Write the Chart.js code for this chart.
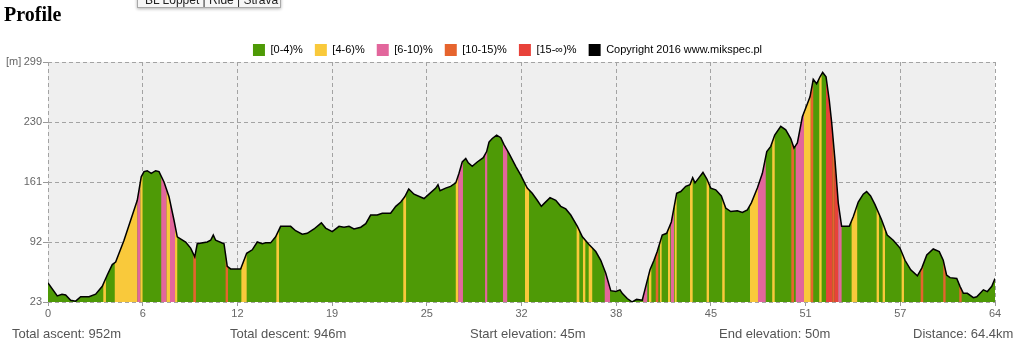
<!DOCTYPE html>
<html>
<head>
<meta charset="utf-8">
<title>Profile</title>
<script src="https://cdn.jsdelivr.net/npm/chart.js@4.4.0/dist/chart.umd.min.js"></script>
<style>
  html, body { margin: 0; padding: 0; background: #fff; }
  body { width: 1023px; height: 362px; position: relative; overflow: hidden; font-family: "Liberation Sans", Arial, sans-serif; }
  #wrap { position: absolute; left: 0; top: 0; width: 1023px; height: 362px; }
  h1 { position: absolute; left: 4px; top: 2px; margin: 0; font: bold 20px/24px "Liberation Serif", "Times New Roman", serif; color: #000; z-index: 2; }
  .tip { position: absolute; left: 137px; top: -9px; width: 144px; height: 17px; padding: 0 0 0 7px; box-sizing: border-box;
         background: #f6f6f6; border: 1px solid #a8a8a8; box-shadow: 0 1px 3px rgba(0,0,0,0.3);
         font: 12px/17px "Liberation Sans", Arial, sans-serif; color: #222; white-space: nowrap; z-index: 3; }
  .stat { position: absolute; top: 326px; font-size: 13px; line-height: 16px; color: #555; white-space: nowrap; }
</style>
</head>
<body>
<h1>Profile</h1>
<div class="tip">BL Loppet | Ride | Strava</div>
<div id="wrap"><canvas id="profile"></canvas></div>
<div id="stats"></div>
<script>
// distance along the route [km] and elevation [m]
const dist = [
  0, 0.63, 0.95, 1.20, 1.54, 1.88, 2.22, 2.79, 3.24, 3.69,
  4.03, 4.37, 4.60, 5.17, 5.62, 6.07, 6.34, 6.53, 6.75, 7.02,
  7.32, 7.55, 7.89, 8.23, 8.57, 8.79, 9.36, 9.70, 9.98, 10.15,
  10.83, 11.06, 11.24, 11.40, 11.97, 12.19, 12.42, 13.10, 13.51, 13.89,
  14.23, 14.57, 14.80, 15.14, 15.48, 15.82, 16.50, 16.84, 17.29, 17.63,
  18.09, 18.59, 18.88, 19.33, 19.79, 20.13, 20.47, 20.81, 21.27, 21.61,
  21.94, 22.39, 22.73, 23.30, 23.65, 23.99, 24.26, 24.53, 24.89, 25.57,
  25.91, 26.37, 26.52, 26.66, 27.04, 27.38, 27.73, 27.95, 28.17, 28.41,
  28.58, 28.85, 29.19, 29.60, 29.83, 29.99, 30.21, 30.51, 30.79, 31.01,
  31.35, 31.81, 32.15, 32.59, 32.93, 33.27, 33.55, 33.78, 34.14, 34.53,
  34.87, 35.21, 35.55, 36.00, 36.34, 36.79, 37.25, 37.59, 37.93, 38.27,
  38.61, 38.90, 39.05, 39.39, 39.73, 40.03, 40.41, 40.65, 40.94, 41.21,
  41.43, 41.77, 42.07, 42.39, 42.75, 43.03, 43.37, 43.66, 43.84, 44.00,
  44.27, 44.54, 44.79, 45.07, 45.41, 45.79, 46.09, 46.43, 46.88, 47.22,
  47.56, 47.83, 48.24, 48.58, 48.88, 49.15, 49.42, 49.83, 50.17, 50.51,
  50.73, 50.96, 51.30, 51.64, 51.82, 52.04, 52.27, 52.50, 52.68, 52.91,
  53.13, 53.29, 53.52, 53.74, 53.97, 54.49, 54.76, 55.10, 55.44, 55.67,
  55.94, 56.24, 56.70, 57.07, 57.48, 57.94, 58.28, 58.67, 59.12, 59.42,
  59.76, 60.20, 60.61, 60.88, 61.11, 61.34, 61.80, 62.02, 62.25, 62.52,
  62.93, 63.16, 63.61, 63.88, 64.18, 64.40
];
const elev = [
  45, 30, 32, 31, 25, 24, 29, 29, 32, 41,
  54, 66, 69, 94, 117, 140, 167, 173, 174, 171,
  174, 173, 161, 144, 117, 98, 92, 85, 75, 90,
  92, 94, 100, 94, 90, 64, 61, 61, 79, 83,
  92, 90, 91, 91, 98, 110, 110, 105, 101, 102,
  107, 114, 108, 104, 110, 109, 110, 107, 109, 113,
  123, 123, 125, 125, 133, 138, 144, 153, 147, 142,
  147, 154, 158, 151, 154, 156, 160, 171, 184, 188,
  183, 179, 184, 189, 196, 207, 211, 215, 212, 204,
  194, 179, 169, 154, 148, 140, 133, 137, 143, 140,
  133, 130, 123, 110, 98, 89, 81, 71, 56, 36,
  35, 37, 33, 27, 23, 26, 25, 41, 60, 71,
  81, 100, 102, 115, 148, 150, 156, 158, 166, 160,
  166, 172, 165, 154, 152, 145, 131, 127, 128, 126,
  129, 137, 154, 171, 196, 202, 215, 225, 221, 211,
  200, 206, 236, 251, 259, 279, 274, 282, 287, 282,
  255, 230, 186, 137, 110, 110, 121, 138, 147, 150,
  145, 135, 117, 100, 94, 85, 71, 60, 53, 62,
  77, 84, 81, 71, 54, 51, 50, 41, 33, 33,
  28, 29, 37, 35, 41, 50
];

const gradeLabels = ['[0-4)%', '[4-6)%', '[6-10)%', '[10-15)%', '[15-\u221e)%'];
const gradeColors = ['#4e9a06', '#f9c93b', '#e2669c', '#e6642e', '#e8423a'];
const copyright = 'Copyright 2016 www.mikspec.pl';

// stretches with a steeper grade: [from km, to km, grade class]
const bands = [
  [3.76, 3.94, 1], [4.54, 6.07, 1], [6.07, 6.29, 2], [6.29, 6.43, 1],
  [7.70, 8.07, 2], [8.07, 8.30, 1], [8.30, 8.64, 2], [8.64, 8.79, 1],
  [9.88, 10.06, 3], [12.08, 12.24, 3], [13.15, 13.51, 1], [15.53, 15.71, 1],
  [24.16, 24.35, 1], [27.73, 27.90, 1], [27.90, 28.22, 2], [29.72, 29.87, 2],
  [30.94, 31.23, 2], [32.44, 32.71, 1], [35.95, 36.13, 1], [36.38, 36.54, 1],
  [36.77, 37.01, 1], [37.86, 38.22, 2], [40.48, 40.75, 2], [40.87, 41.03, 1],
  [41.33, 41.50, 3], [41.62, 41.73, 1], [42.16, 42.30, 1], [42.35, 42.57, 2],
  [42.62, 42.75, 1], [43.66, 43.84, 1], [44.79, 44.95, 1], [45.85, 46.02, 1],
  [47.74, 48.28, 1], [48.28, 48.81, 2], [49.25, 49.42, 1], [50.55, 50.73, 3],
  [50.85, 51.41, 2], [51.41, 51.87, 1], [51.87, 52.04, 3], [52.45, 52.61, 1],
  [52.91, 53.36, 4], [53.36, 53.47, 3], [53.47, 53.74, 4], [53.74, 53.97, 2],
  [54.65, 55.03, 1], [56.35, 56.51, 1], [56.76, 56.92, 1], [58.05, 58.21, 1],
  [59.35, 59.52, 3], [60.88, 61.04, 3], [61.97, 62.13, 3]
];

const xTicks = [0, 6.44, 12.88, 19.32, 25.76, 32.2, 38.64, 45.08, 51.52, 57.96, 64.4];
const xTickLabels = ['0', '6', '12', '19', '25', '32', '38', '45', '51', '57', '64'];
const yTicks = [23, 92, 161, 230, 299];
const yUnit = '[m]';

const stats = ['Total ascent: 952m', 'Total descent: 946m', 'Start elevation: 45m', 'End elevation: 50m', 'Distance: 64.4km'];
const statLeft = [12, 230, 470, 719, 913];

const statsBox = document.getElementById('stats');
stats.forEach((s, i) => {
  const d = document.createElement('div');
  d.className = 'stat';
  d.style.left = statLeft[i] + 'px';
  d.textContent = s;
  statsBox.appendChild(d);
});

Chart.defaults.font.family = '"Liberation Sans", Arial, sans-serif';
Chart.defaults.font.size = 11;
Chart.defaults.color = '#666';

// light grey plot background
const areaBg = {
  id: 'areaBg',
  beforeDraw(chart) {
    const { ctx, chartArea: a } = chart;
    ctx.save();
    ctx.fillStyle = '#efefef';
    ctx.fillRect(a.left, a.top, a.right - a.left, a.bottom - a.top);
    ctx.restore();
  }
};

// paint the grade stretches under the profile, after the green fill and before the line
const gradeBands = {
  id: 'gradeBands',
  beforeDatasetDraw(chart, args) {
    if (args.index !== 0) return;
    const { ctx, chartArea: a, scales: { x } } = chart;
    const pts = args.meta.data;
    bands.forEach(([from, to, cls]) => {
      const x0 = x.getPixelForValue(from);
      const x1 = x.getPixelForValue(to);
      ctx.save();
      ctx.beginPath();
      ctx.rect(x0, a.top, x1 - x0, a.bottom - a.top);
      ctx.clip();
      ctx.beginPath();
      ctx.moveTo(pts[0].x, a.bottom);
      pts.forEach(p => ctx.lineTo(p.x, p.y));
      ctx.lineTo(pts[pts.length - 1].x, a.bottom);
      ctx.closePath();
      ctx.fillStyle = gradeColors[cls];
      ctx.fill();
      ctx.restore();
    });
  }
};

// "[m]" unit in front of the top y tick (tick labels are clipped to the axis box)
const unitLabel = {
  id: 'unitLabel',
  afterDraw(chart) {
    const { ctx, scales: { y } } = chart;
    ctx.save();
    ctx.font = '11px "Liberation Sans", Arial, sans-serif';
    ctx.fillStyle = '#666';
    ctx.textAlign = 'left';
    ctx.textBaseline = 'middle';
    ctx.fillText(yUnit, 6, y.getPixelForValue(yTicks[yTicks.length - 1]));
    ctx.restore();
  }
};

new Chart(document.getElementById('profile'), {
  type: 'line',
  data: {
    datasets: [{
      data: dist.map((d, i) => ({ x: d, y: elev[i] })),
      borderColor: '#000',
      borderWidth: 1.5,
      backgroundColor: gradeColors[0],
      fill: 'start',
      pointRadius: 0,
      tension: 0
    }]
  },
  options: {
    responsive: true,
    maintainAspectRatio: false,
    animation: false,
    layout: { padding: { top: 32, left: 20, right: 28, bottom: 40 } },
    plugins: {
      legend: {
        position: 'top',
        maxHeight: 30,
        onClick: null,
        labels: {
          boxWidth: 12,
          boxHeight: 12,
          padding: 12,
          color: '#666',
          font: { size: 11 },
          generateLabels: () => gradeLabels.map((t, i) => ({
            text: t, fillStyle: gradeColors[i], strokeStyle: gradeColors[i], lineWidth: 0
          })).concat([{ text: copyright, fillStyle: '#000', strokeStyle: '#000', lineWidth: 0 }])
        }
      },
      tooltip: { enabled: false }
    },
    scales: {
      x: {
        type: 'linear',
        min: 0,
        max: 64.4,
        afterBuildTicks: s => { s.ticks = xTicks.map(v => ({ value: v })); },
        afterFit: s => { s.height = 20; },
        ticks: { autoSkip: false, maxRotation: 0, padding: 1, callback: (v, i) => xTickLabels[i] },
        grid: { color: '#a3a3a3', tickLength: 4, tickColor: '#999', tickBorderDash: [] },
        border: { display: false, dash: [4, 3] }
      },
      y: {
        min: 23,
        max: 299,
        afterBuildTicks: s => { s.ticks = yTicks.map(v => ({ value: v })); },
        afterFit: s => { s.width = 28; },
        ticks: { padding: 1 },
        grid: { color: '#a3a3a3', tickLength: 5, tickColor: '#999', tickBorderDash: [] },
        border: { display: false, dash: [4, 3] }
      }
    }
  },
  plugins: [areaBg, gradeBands, unitLabel]
});
</script>
</body>
</html>
